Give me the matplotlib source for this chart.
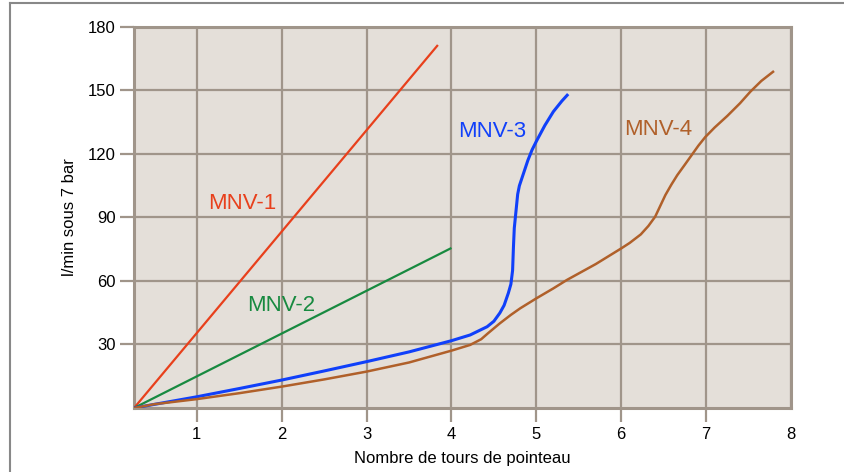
import matplotlib.pyplot as plt
from matplotlib.lines import Line2D

plt.rcParams['font.family'] = ['Liberation Sans', 'DejaVu Sans']

# values (turns, l/min at 7 bar)
mnv1_x = [0.26, 3.84]
mnv1_y = [0, 171.5]

mnv2_x = [0.26, 4.0]
mnv2_y = [0, 75.6]

mnv3_x = [0.26, 1.0, 1.5, 2.0, 2.5, 3.0, 3.5, 4.0, 4.22, 4.42, 4.5, 4.57,
          4.62, 4.67, 4.70, 4.72, 4.73, 4.74, 4.76, 4.78, 4.80, 4.85, 4.90,
          4.95, 5.0, 5.1, 5.2, 5.3, 5.375]
mnv3_y = [0, 5.3, 9.2, 13.2, 17.5, 21.9, 26.5, 31.8, 34.5, 38.4, 41.0, 44.9,
          48.5, 54.3, 58.5, 65.0, 76.0, 85.0, 93.0, 101.0, 105.0, 111.0, 117.0,
          122.0, 126.0, 133.5, 140.0, 145.0, 148.3]

mnv4_x = [0.26, 0.5, 1.0, 1.5, 2.0, 2.5, 3.0, 3.5, 4.0, 4.22, 4.35, 4.43,
          4.57, 4.7, 4.81, 5.0, 5.2, 5.36, 5.7, 6.0, 6.1, 6.23, 6.32, 6.40,
          6.46, 6.52, 6.59, 6.66, 6.75, 6.83, 6.91, 6.99, 7.1, 7.25, 7.4,
          7.52, 7.65, 7.80]
mnv4_y = [0, 1.8, 4.2, 7.0, 10.1, 13.5, 17.2, 21.5, 27.1, 29.8, 32.5, 35.3,
          40.0, 44.0, 47.1, 51.8, 56.5, 60.5, 68.0, 75.4, 78.0, 82.0, 86.0, 90.4,
          95.5, 100.6, 105.5, 110.0, 115.0, 119.5, 124.0, 128.0, 132.5, 138.0, 144.0,
          149.4, 154.5, 159.2]

series_names = ['MNV-1', 'MNV-2', 'MNV-3', 'MNV-4']
series_colors = ['#e8401c', '#188a40', '#1040fa', '#b0602a']
label_pos = [(1.54, 94), (1.99, 46), (4.48, 128), (6.44, 129)]

x_ticks = [1, 2, 3, 4, 5, 6, 7, 8]
y_ticks = [30, 60, 90, 120, 150, 180]

grid_col = '#a0958a'

fig = plt.figure(figsize=(8.44, 4.72), dpi=100)
ax = fig.add_axes([0.1588, 0.1356, 0.7784, 0.8072])
ax.set_facecolor('#e4dfd9')

xs = [mnv1_x, mnv2_x, mnv3_x, mnv4_x]
ys = [mnv1_y, mnv2_y, mnv3_y, mnv4_y]
widths = [1.6, 1.6, 2.2, 1.8]
for x, y, c, lw in zip(xs, ys, series_colors, widths):
    ax.plot(x, y, color=c, linewidth=lw, solid_capstyle='butt',
            solid_joinstyle='round', zorder=3)

for name, c, (tx, ty) in zip(series_names, series_colors, label_pos):
    ax.text(tx, ty, name, color=c, fontsize=16, ha='center', va='baseline', zorder=4)

ax.set_xlim(0.26, 8)
ax.set_ylim(0, 180)
ax.set_xticks(x_ticks)
ax.set_yticks(y_ticks)
ax.grid(True, color=grid_col, linewidth=1.6, zorder=1)
ax.set_axisbelow(True)

for s in ax.spines.values():
    s.set_color(grid_col)
    s.set_linewidth(2.2)

ax.tick_params(axis='both', colors=grid_col, width=1.6, length=10, labelsize=12,
               labelcolor='black')
ax.tick_params(axis='x', pad=4)
ax.tick_params(axis='y', pad=3)
ax.xaxis.get_major_ticks()[-1].tick1line.set_visible(False)

ax.set_xlabel('Nombre de tours de pointeau', fontsize=12, labelpad=6)
ax.set_ylabel('l/min sous 7 bar', fontsize=12, labelpad=8)

# partial frame around the figure (top and left only)
fig.add_artist(Line2D([9.5 / 844, 9.5 / 844], [0, 1 - 2.5 / 472], transform=fig.transFigure,
                      color='#888888', linewidth=1.5))
fig.add_artist(Line2D([9.5 / 844, 1], [1 - 2.5 / 472, 1 - 2.5 / 472], transform=fig.transFigure,
                      color='#888888', linewidth=1.5))

fig.savefig('out.png', dpi=100)
